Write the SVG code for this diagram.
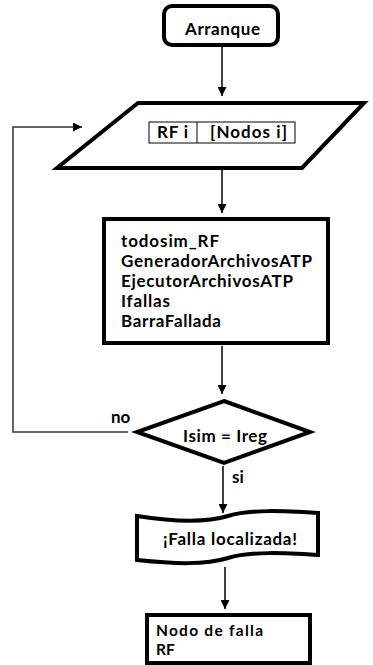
<svg xmlns="http://www.w3.org/2000/svg" width="373" height="665" viewBox="0 0 373 665">
<style>
.shape{fill:#fff;stroke:#000;stroke-width:4;stroke-linejoin:miter}
.t{font-family:Lato,"Open Sans","Liberation Sans",sans-serif;font-weight:bold;font-size:17px;fill:#000}
.s{font-size:15.5px}
.c{stroke:#000;stroke-width:1.5;fill:none}
.loop{stroke:#333;stroke-width:1.5;fill:none}
</style>
<defs>
<marker id="ah" viewBox="0 0 10 10" refX="10" refY="5" markerWidth="9" markerHeight="9" markerUnits="userSpaceOnUse" orient="auto">
<path d="M0,0 L10,5 L0,10 z" fill="#000"/>
</marker>
</defs>
<rect width="373" height="665" fill="#fff"/>
<g id="connectors">
<line class="c" x1="222" y1="47" x2="222" y2="96" marker-end="url(#ah)"/>
<line class="c" x1="222" y1="168" x2="222" y2="213" marker-end="url(#ah)"/>
<line class="c" x1="222" y1="346" x2="222" y2="394" marker-end="url(#ah)"/>
<line class="c" x1="223" y1="466" x2="223" y2="513" marker-end="url(#ah)"/>
<line class="c" x1="225" y1="567" x2="225" y2="609" marker-end="url(#ah)"/>
<polyline class="loop" points="128,432 13,432 13,127 82,127" marker-end="url(#ah)"/>
<text class="t" x="111" y="423">no</text>
<text class="t" x="232" y="483">si</text>
</g>
<g id="arranque">
<rect class="shape" x="164" y="6" width="114" height="39" rx="8"/>
<text class="t" x="185" y="35" textLength="75">Arranque</text>
</g>
<g id="entrada">
<polygon class="shape" points="138,103 364,103 302,168 57,168"/>
<rect x="149" y="122" width="146" height="21" fill="#fff" stroke="#000" stroke-width="1"/>
<line x1="197" y1="122" x2="197" y2="143" stroke="#000" stroke-width="1"/>
<text class="t" x="157" y="138" textLength="31">RF i</text>
<text class="t" x="210" y="138" textLength="77">[Nodos i]</text>
</g>
<g id="proceso">
<rect class="shape" x="104" y="219" width="224" height="124"/>
<text class="t" x="121" y="247" textLength="98">todosim_RF</text>
<text class="t" x="121" y="267" textLength="191">GeneradorArchivosATP</text>
<text class="t" x="121" y="287" textLength="172">EjecutorArchivosATP</text>
<text class="t" x="121" y="307" textLength="49">Ifallas</text>
<text class="t" x="121" y="327" textLength="100">BarraFallada</text>
</g>
<g id="decision">
<polygon class="shape" points="224,401 310,432 224,463 137,432"/>
<text class="t" x="183" y="442" textLength="84">Isim = Ireg</text>
</g>
<g id="falla">
<path class="shape" d="M137,516 C175,522 205,523 228,516 C250,509 285,511 318,513 L318,555 C285,553 250,551 228,558 C205,565 175,564 137,560 Z"/>
<text class="t" x="163" y="545" textLength="134">¡Falla localizada!</text>
</g>
<g id="nodo">
<rect class="shape" x="147" y="615" width="163" height="48"/>
<text class="t s" x="156" y="636" textLength="107">Nodo de falla</text>
<text class="t s" x="156" y="655">RF</text>
</g>
</svg>
